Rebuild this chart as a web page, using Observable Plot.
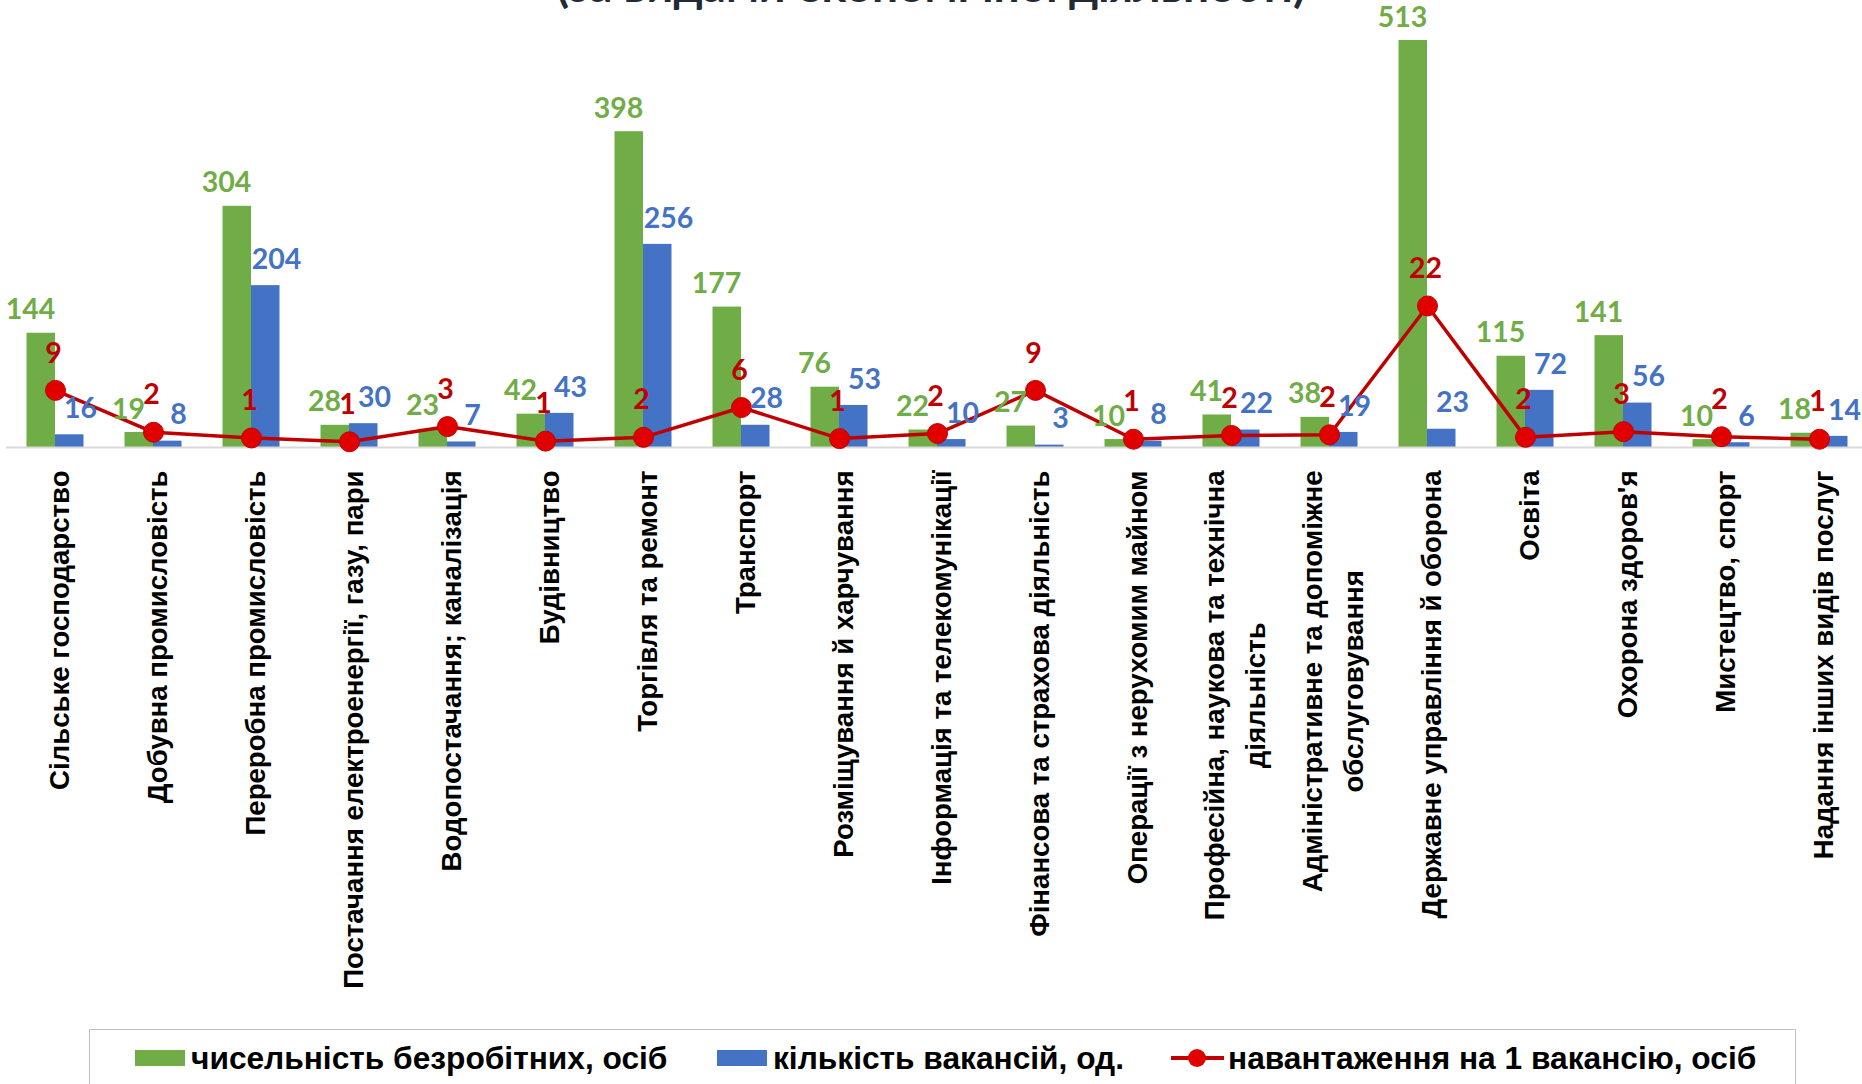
<!DOCTYPE html>
<html>
<head>
<meta charset="utf-8">
<script src="https://cdn.jsdelivr.net/npm/d3@7"></script>
<script src="https://cdn.jsdelivr.net/npm/@observablehq/plot@0.6"></script>
<style>
  html, body { margin: 0; padding: 0; background: #fff; overflow: hidden; }
  #wrap { position: relative; width: 1862px; height: 1084px; overflow: hidden; }
  #title { position: absolute; left: 0; width: 1862px; top: -38px; text-align: center;
           font: bold 46px Lato, sans-serif; color: #222a35; line-height: 46px; white-space: nowrap; }
  #chart { position: absolute; left: 0; top: 0; }
  #legend { position: absolute; left: 89px; top: 1029px; width: 1707px; height: 100px;
            border: 1.5px solid #bfbfbf; background: #fff; box-sizing: border-box; }
  .key { position: absolute; }
  .lt { position: absolute; top: 0; font: bold 31.7px "Liberation Sans", Arial, sans-serif; color: #000;
        line-height: 56px; white-space: nowrap; }
</style>
</head>
<body>
<div id="wrap">
  <div id="chart"></div>
  <div id="title">(за видами економічної діяльності)</div>
  <div id="legend"></div>
</div>
<script>
const categories = [
  "Сільське господарство",
  "Добувна промисловість",
  "Переробна промисловість",
  "Постачання електроенергії, газу, пари",
  "Водопостачання; каналізація",
  "Будівництво",
  "Торгівля та ремонт",
  "Транспорт",
  "Розміщування й харчування",
  "Інформація та телекомунікації",
  "Фінансова та страхова діяльність",
  "Операції з нерухомим майном",
  "Професійна, наукова та технічна\nдіяльність",
  "Адміністративне та допоміжне\nобслуговування",
  "Державне управління й оборона",
  "Освіта",
  "Охорона здоров'я",
  "Мистецтво, спорт",
  "Надання інших видів послуг"
];
const unemployed = [144, 19, 304, 28, 23, 42, 398, 177, 76, 22, 27, 10, 41, 38, 513, 115, 141, 10, 18];
const vacancies  = [16, 8, 204, 30, 7, 43, 256, 28, 53, 10, 3, 8, 22, 19, 23, 72, 56, 6, 14];
const load       = [9.0, 2.4, 1.5, 0.9, 3.3, 1.0, 1.6, 6.3, 1.4, 2.2, 9.0, 1.3, 1.9, 2.0, 22.3, 1.6, 2.5, 1.7, 1.3];
const loadLabels = [9, 2, 1, 1, 3, 1, 2, 6, 1, 2, 9, 1, 2, 2, 22, 2, 3, 2, 1];
const seriesNames = ["чисельність безробітних, осіб", "кількість вакансій, од.", "навантаження на 1 вакансію, осіб"];

const GREEN = "#70ad47", BLUE = "#4472c4", RED = "#c00000", DOT = "#e00000";
const SECONDARY = 8; // secondary axis: 1 person per vacancy = 8 units of the primary axis

const rows = categories.map((c, i) => ({c, u: unemployed[i], v: vacancies[i], l: load[i] * SECONDARY, ll: loadLabels[i]}));

const axisFont = '"Liberation Sans", Arial, sans-serif';
const axisSize = 27.6;
const numFont = 'Lato, sans-serif';
const numSize = 28.5;

const ctx = document.createElement("canvas").getContext("2d");
ctx.font = `bold ${axisSize}px ${axisFont}`;
const labelMarks = categories.map(c => {
  const w = Math.max(...c.split("\n").map(s => ctx.measureText(s).width));
  return Plot.text([c], {x: d => d, y: () => 0, text: d => d, rotate: -90, textAnchor: "middle",
    lineAnchor: "middle", lineHeight: 1.5, dy: 23 + w / 2, fontSize: axisSize, fontWeight: "bold",
    fontFamily: axisFont, fill: "#000"});
});

const chart = Plot.plot({
  width: 1862, height: 1020,
  marginTop: 0, marginBottom: 573, marginLeft: 6, marginRight: 0,
  x: {domain: categories, range: [6, 1868], padding: 0, axis: null},
  y: {domain: [0, 563.4], axis: null},
  style: {background: "transparent"},
  marks: [
    Plot.barY(rows, {x: "c", y: "u", fill: GREEN, insetLeft: 20.5, insetRight: 49}),
    Plot.barY(rows, {x: "c", y: "v", fill: BLUE, insetLeft: 49, insetRight: 20.5}),
    Plot.ruleY([0], {stroke: "#d9d9d9", strokeWidth: 2}),
    Plot.line(rows, {x: "c", y: "l", stroke: RED, strokeWidth: 3.5}),
    Plot.dot(rows, {x: "c", y: "l", r: 10, fill: DOT, stroke: RED, strokeWidth: 1}),
    Plot.text(rows, {x: "c", y: "u", text: d => String(d.u), dx: -25, dy: -23, lineAnchor: "middle",
      fill: GREEN, fontSize: numSize, fontWeight: "bold", fontFamily: numFont}),
    Plot.text(rows, {x: "c", y: "v", text: d => String(d.v), dx: 25, dy: -26, lineAnchor: "middle",
      fill: BLUE, fontSize: numSize, fontWeight: "bold", fontFamily: numFont}),
    Plot.text(rows, {x: "c", y: "l", text: d => String(d.ll), dx: -2, dy: -37, lineAnchor: "middle",
      fill: RED, fontSize: numSize, fontWeight: "bold", fontFamily: numFont}),
    ...labelMarks
  ]
});
document.getElementById("chart").appendChild(chart);

// legend
const legend = document.getElementById("legend");
const keys = [
  {type: "bar", color: GREEN, keyLeft: 45, textLeft: 101},
  {type: "bar", color: BLUE, keyLeft: 627, textLeft: 683},
  {type: "line", color: RED, keyLeft: 1081, textLeft: 1138}
];
keys.forEach((k, i) => {
  if (k.type === "bar") {
    const sw = document.createElement("div");
    sw.className = "key";
    Object.assign(sw.style, {left: k.keyLeft + "px", top: "20px", width: "50px", height: "16px", background: k.color});
    legend.appendChild(sw);
  } else {
    const ln = document.createElement("div");
    ln.className = "key";
    Object.assign(ln.style, {left: k.keyLeft + "px", top: "26px", width: "53px", height: "4px", background: k.color});
    legend.appendChild(ln);
    const dt = document.createElement("div");
    dt.className = "key";
    Object.assign(dt.style, {left: (k.keyLeft + 17) + "px", top: "19px", width: "18px", height: "18px",
      borderRadius: "50%", background: DOT});
    legend.appendChild(dt);
  }
  const t = document.createElement("div");
  t.className = "lt";
  t.style.left = k.textLeft + "px";
  t.textContent = seriesNames[i];
  legend.appendChild(t);
});
</script>
</body>
</html>
